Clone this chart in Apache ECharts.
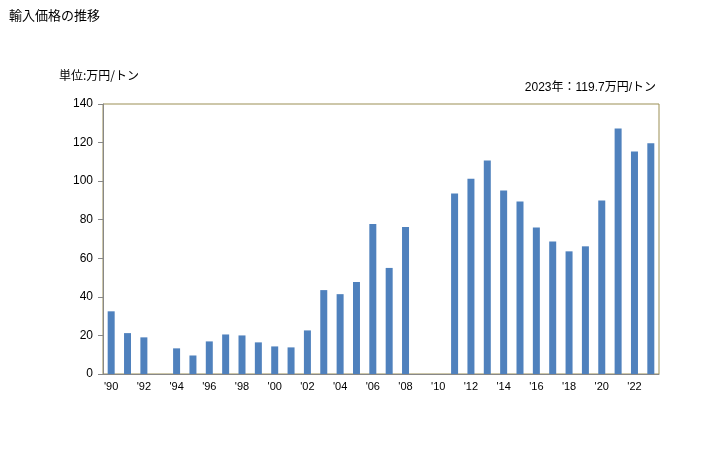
<!DOCTYPE html>
<html><head><meta charset="utf-8">
<script src="https://cdn.jsdelivr.net/npm/echarts@6/dist/echarts.min.js"></script>
<style>html,body{margin:0;padding:0;background:#fff}#c{width:728px;height:450px}</style>
</head><body><div id="c"></div>
<script>
const years = ["'90","'91","'92","'93","'94","'95","'96","'97","'98","'99","'00","'01","'02","'03","'04","'05","'06","'07","'08","'09","'10","'11","'12","'13","'14","'15","'16","'17","'18","'19","'20","'21","'22","'23"];
const values = [32.5,21.2,19.0,null,13.3,9.6,16.9,20.5,20.0,16.4,14.3,13.8,22.6,43.5,41.4,47.7,77.8,55.0,76.2,null,null,93.6,101.3,110.7,95.2,89.4,75.9,68.7,63.6,66.2,90.0,127.3,115.4,119.7];
const yTicks = [0,20,40,60,80,100,120,140];
const titleText = '輸入価格の推移';
const unitText = '単位:万円/トン';
const noteText = '2023年：119.7万円/トン';

const font = '"Liberation Sans","Noto Sans CJK JP",sans-serif';
const chart = echarts.init(document.getElementById('c'));
chart.setOption({
  animation:false,
  title:[
    {text:titleText,left:4,top:4,textStyle:{fontFamily:'"Noto Sans CJK JP",sans-serif',fontSize:13,fontWeight:'normal',color:'#000'}},
    {text:unitText,left:54,top:64,textStyle:{fontFamily:'"Noto Sans CJK JP",sans-serif',fontSize:12,fontWeight:'normal',color:'#000'}},
    {text:noteText,right:67,top:77,textStyle:{fontFamily:font,fontSize:12,fontWeight:'normal',color:'#000'}}
  ],
  grid:{left:103,right:69,top:104,bottom:76,show:true,borderColor:'#9b8f55',borderWidth:1,backgroundColor:'#fff'},
  xAxis:{type:'category',data:years,
    axisLine:{show:true,lineStyle:{color:'#888'}},
    axisTick:{show:false},
    axisLabel:{interval:1,color:'#000',fontFamily:font,fontSize:11,margin:7},
    splitLine:{show:false}},
  yAxis:{type:'value',min:yTicks[0],max:yTicks[yTicks.length-1],interval:20,
    axisLine:{show:true,lineStyle:{color:'#888'}},
    axisTick:{show:true,length:5,lineStyle:{color:'#888'}},
    axisLabel:{color:'#000',fontFamily:font,fontSize:12,margin:10},
    splitLine:{show:false}},
  series:[{type:'bar',data:values,barWidth:7,itemStyle:{color:'#4f81bd'}}]
});
</script></body></html>
